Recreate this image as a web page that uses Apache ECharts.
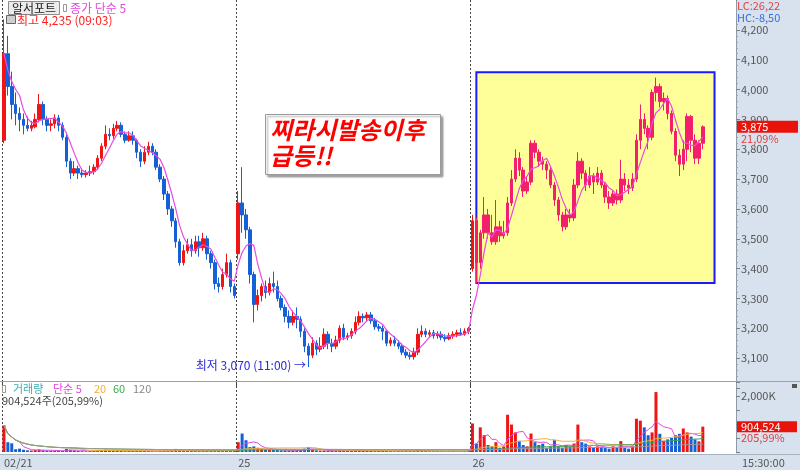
<!DOCTYPE html>
<html>
<head>
<meta charset="utf-8">
<script src="https://cdn.jsdelivr.net/npm/echarts@6/dist/echarts.min.js"></script>
<style>
  html, body { margin: 0; padding: 0; background: #fff; }
  #chart { width: 800px; height: 470px; }
</style>
</head>
<body>
<div id="chart"></div>
<script>
// day labels on the time axis
const dayLabels = ['02/21', '25', '26'];

// intraday candles, [open, close, low, high]
const day1 = [
  [3830,4120,3820,4235],[4120,4010,3980,4180],[4010,3950,3900,4060],[3950,3920,3880,3990],[3920,3900,3860,3940],
  [3900,3880,3850,3920],[3880,3870,3860,3910],[3870,3880,3860,3895],[3875,3900,3870,3920],[3900,3950,3890,3985],
  [3950,3900,3880,3960],[3900,3880,3860,3910],[3880,3885,3860,3900],[3885,3905,3870,3917],[3905,3880,3860,3915],
  [3880,3840,3830,3890],[3840,3760,3740,3850],[3760,3720,3700,3770],[3720,3735,3710,3760],[3735,3720,3700,3745],
  [3720,3715,3705,3735],[3715,3720,3705,3730],[3720,3725,3710,3745],[3725,3740,3715,3750],[3740,3770,3730,3780],
  [3770,3810,3760,3820],[3810,3850,3800,3880],[3850,3845,3830,3870],[3845,3870,3835,3885],[3870,3880,3860,3895],
  [3880,3850,3840,3890],[3850,3830,3820,3860],[3830,3845,3825,3860],[3845,3830,3815,3860],[3830,3790,3770,3835],
  [3790,3760,3740,3800],[3760,3790,3750,3810],[3790,3810,3780,3825],[3810,3790,3780,3820],[3790,3740,3730,3800],
  [3740,3700,3690,3750],[3700,3650,3630,3710],[3650,3600,3580,3660],[3600,3560,3540,3610],[3560,3490,3470,3570],
  [3490,3420,3410,3500],[3420,3460,3410,3480],[3460,3480,3450,3500],[3480,3460,3440,3500],[3460,3490,3450,3510],
  [3490,3470,3440,3510],[3470,3500,3460,3520],[3500,3450,3430,3510],[3450,3420,3400,3460],[3420,3350,3330,3430],
  [3350,3340,3320,3370],[3340,3380,3330,3400],[3380,3420,3370,3450],[3420,3340,3320,3430],[3340,3310,3300,3350]
];
const day2 = [
  [3450,3620,3430,3660],[3620,3580,3520,3740],[3580,3530,3500,3600],[3530,3380,3350,3540],[3380,3280,3220,3390],
  [3280,3310,3260,3330],[3310,3340,3290,3350],[3340,3320,3300,3360],[3320,3350,3310,3370],[3350,3340,3320,3390],
  [3340,3300,3290,3360],[3300,3270,3260,3310],[3270,3240,3220,3280],[3240,3220,3200,3260],[3220,3240,3210,3260],
  [3240,3230,3200,3270],[3230,3190,3170,3240],[3190,3140,3120,3200],[3140,3110,3070,3150],[3110,3150,3100,3170],
  [3150,3130,3110,3160],[3130,3140,3120,3170],[3140,3180,3130,3200],[3180,3150,3130,3190],[3150,3140,3120,3165],
  [3140,3160,3130,3175],[3160,3200,3150,3210],[3200,3170,3160,3215],[3170,3175,3160,3185],[3175,3190,3165,3200],
  [3190,3220,3180,3240],[3220,3240,3210,3257],[3240,3235,3220,3250],[3235,3245,3225,3255],[3245,3225,3215,3255],
  [3225,3205,3195,3235],[3205,3200,3190,3215],[3200,3190,3160,3210],[3190,3150,3140,3195],[3150,3160,3140,3170],
  [3160,3150,3140,3175],[3150,3140,3130,3160],[3140,3120,3110,3150],[3120,3110,3100,3130],[3110,3105,3095,3120],
  [3105,3120,3095,3135],[3120,3180,3110,3200],[3180,3190,3170,3210],[3190,3180,3170,3200],[3180,3185,3170,3195],
  [3185,3175,3165,3195],[3175,3180,3165,3190],[3180,3170,3160,3190],[3170,3165,3155,3180],[3165,3175,3160,3185],
  [3175,3180,3165,3190],[3180,3185,3170,3195],[3185,3180,3175,3200],[3180,3190,3175,3200],[3190,3200,3180,3205]
];
const day3 = [
  [3400,3560,3390,3580],[3560,3420,3350,3570],[3420,3520,3400,3530],[3520,3580,3500,3640],[3580,3520,3500,3600],
  [3520,3490,3480,3580],[3490,3540,3480,3630],[3540,3510,3490,3560],[3510,3520,3500,3560],[3520,3620,3510,3640],
  [3620,3700,3610,3730],[3700,3770,3690,3800],[3770,3730,3710,3790],[3730,3660,3640,3740],[3660,3690,3650,3710],
  [3690,3820,3680,3830],[3820,3790,3770,3830],[3790,3760,3740,3800],[3760,3750,3730,3775],[3750,3730,3700,3760],
  [3730,3680,3670,3740],[3680,3630,3610,3690],[3630,3580,3560,3640],[3580,3540,3525,3590],[3540,3580,3530,3600],
  [3580,3570,3555,3600],[3570,3680,3560,3700],[3680,3760,3670,3790],[3760,3720,3700,3770],[3720,3680,3660,3730],
  [3680,3710,3670,3740],[3710,3690,3650,3720],[3690,3720,3680,3740],[3720,3680,3670,3730],[3680,3640,3620,3690],
  [3640,3620,3600,3660],[3620,3650,3610,3660],[3650,3630,3615,3665],[3630,3700,3620,3765],[3700,3680,3660,3720],
  [3680,3670,3650,3700],[3670,3700,3660,3720],[3700,3830,3690,3850],[3830,3900,3800,3950],[3900,3870,3850,3920],
  [3870,3840,3800,3880],[3840,3990,3830,4000],[3990,4010,3960,4040],[4010,3960,3940,4020],[3960,3970,3930,3990],
  [3970,3920,3900,3980],[3920,3860,3850,3930],[3860,3780,3760,3870],[3780,3750,3710,3800],[3750,3800,3730,3830],
  [3800,3910,3760,3920],[3910,3830,3790,3915],[3830,3770,3750,3850],[3770,3820,3750,3830],[3820,3875,3800,3880]
];

// volume, thousand shares
const vol1 = [950,350,310,100,120,80,60,50,70,90, 60,50,40,45,50,40,110,80,60,40,
  30,25,30,35,60,70,80,50,45,40, 35,30,40,35,50,45,40,35,30,25,
  40,50,45,50,110,70,45,40,35,40, 35,40,45,40,60,50,40,45,50,60];
const vol2 = [350,660,420,175,200,150,120,100,90,80, 70,60,60,50,55,60,80,120,180,90,
  60,50,55,45,40,45,60,40,35,40, 50,60,45,40,35,30,35,40,45,35,
  30,35,40,45,35,40,60,45,35,30, 30,35,30,25,30,35,30,30,35,60];
const vol3 = [1020,300,880,600,250,200,350,150,200,1330, 980,700,400,250,200,660,350,250,300,150,
  200,420,200,150,250,200,300,980,350,300, 200,150,200,180,150,120,200,150,390,150,
  120,200,1190,1120,880,600,700,2140,650,400, 450,500,600,650,840,700,550,450,380,904.524];

const stockName = '알서포트';
const highTime = '09:03';
const lowTime = '11:00';
const lastRate = '21,09%';
const volRate = '205,99%';
const lcText = 'LC:26,22';
const hcText = 'HC:-8,50';
const lastTime = '15:30:00';
const boxRange = [3352, 4058];
const note = '찌라시발송이후\n급등!!';

const FONT = '"Noto Sans CJK KR", sans-serif';
const UP = '#f01414', DOWN = '#1560d6';
const UP_BOX = '#f2206c', DOWN_BOX = '#2058a8';
const PANEL = '#d7e2ee';

const candles = day1.concat(day2, day3);
const volumes = vol1.concat(vol2, vol3);
const perDay = day1.length;
const padCount = 8;
const cats = [];
dayLabels.forEach(d => { for (let i = 0; i < perDay; i++) cats.push(d + '_' + i); });
for (let i = 0; i < padCount; i++) cats.push('pad_' + i);

function comma(n) { return String(n).replace(/\B(?=(\d{3})+(?!\d))/g, ','); }
function movingAvg(vals, n) {
  return vals.map((v, i) => {
    const s = Math.max(0, i - n + 1);
    let sum = 0;
    for (let k = s; k <= i; k++) sum += vals[k];
    return +(sum / (i - s + 1)).toFixed(2);
  });
}
const dayStart = i => i % perDay === 0 && i < perDay * dayLabels.length;

const closes = candles.map(c => c[1]);
let hiIdx = 0, loIdx = 0;
candles.forEach((c, i) => {
  if (c[3] > candles[hiIdx][3]) hiIdx = i;
  if (c[2] < candles[loIdx][2]) loIdx = i;
});

const boxStart = perDay * 2 + 1;
const boxEnd = perDay * 3 + 2;
const candleData = candles.map((c, i) => i >= boxStart
  ? { value: c, itemStyle: { color: UP_BOX, color0: DOWN_BOX, borderColor: UP_BOX, borderColor0: DOWN_BOX } }
  : c);
const volData = volumes.map((v, i) => ({
  value: v, itemStyle: { color: candles[i][1] >= candles[i][0] ? UP : DOWN }
}));

const splitDays = { show: true, interval: dayStart, lineStyle: { color: '#444', type: [2, 2], width: 1 } };
const maLine = (data, color, x, y, w) => ({
  type: 'line', xAxisIndex: x, yAxisIndex: y, data: data, symbol: 'none', z: 4,
  lineStyle: { color: color, width: w || 1 }, silent: true
});

const chart = echarts.init(document.getElementById('chart'));
chart.setOption({
  animation: false,
  textStyle: { fontFamily: FONT },
  grid: [
    { left: 2, right: 64, top: -3, height: 391 },
    { left: 2, right: 64, top: 382, height: 70 }
  ],
  xAxis: [
    { type: 'category', gridIndex: 0, data: cats, axisLine: { show: false }, axisTick: { show: false },
      axisLabel: { show: false }, splitLine: splitDays },
    { type: 'category', gridIndex: 1, data: cats, axisLine: { show: false }, axisTick: { show: false },
      axisLabel: { interval: dayStart, formatter: (v, i) => dayLabels[Math.floor(i / perDay)],
        color: '#555', fontSize: 11, align: 'left', margin: 5 },
      splitLine: splitDays }
  ],
  yAxis: [
    { type: 'value', gridIndex: 0, position: 'right', min: 3000, max: 4300, interval: 100,
      splitLine: { show: false },
      axisLine: { show: true, lineStyle: { color: '#8f9aa6' } },
      axisTick: { show: true, length: 4, lineStyle: { color: '#7a828c' } },
      minorTick: { show: true, splitNumber: 5, length: 2, lineStyle: { color: '#9aa3ad' } },
      axisLabel: { color: '#555', fontSize: 11, margin: 5,
        formatter: v => (v <= 3000 || v >= 4300) ? '' : comma(v) } },
    { type: 'value', gridIndex: 1, position: 'right', min: 0, max: 2500, interval: 500,
      splitLine: { show: false },
      axisLine: { show: true, lineStyle: { color: '#8f9aa6' } },
      axisTick: { show: true, length: 4, lineStyle: { color: '#7a828c' } },
      axisLabel: { color: '#555', fontSize: 11, margin: 5, formatter: v => v === 2000 ? '2,000K' : '' } }
  ],
  series: [
    { type: 'candlestick', xAxisIndex: 0, yAxisIndex: 0, data: candleData, barWidth: 3, z: 3,
      itemStyle: { color: UP, color0: DOWN, borderColor: UP, borderColor0: DOWN, borderWidth: 1 },
      markArea: { silent: true,
        itemStyle: { color: '#ffff99', borderColor: '#1a1aff', borderWidth: 2 },
        data: [[{ xAxis: boxStart, yAxis: boxRange[0] }, { xAxis: boxEnd, yAxis: boxRange[1] }]] },
      markPoint: { silent: true, symbol: 'rect', symbolSize: 1, itemStyle: { color: 'rgba(0,0,0,0)' },
        data: [{ coord: [loIdx, candles[loIdx][2]],
          label: { show: true, position: 'left', distance: 2, color: '#2b2bd6', fontSize: 12,
            fontFamily: FONT, offset: [0, -2],
            formatter: '최저 ' + comma(candles[loIdx][2]) + ' (' + lowTime + ') →' } }] } },
    maLine(movingAvg(closes, 5), '#e84ce0', 0, 0, 1.2),
    { type: 'bar', xAxisIndex: 1, yAxisIndex: 1, data: volData, barWidth: 3, silent: true },
    maLine(movingAvg(volumes, 5), '#e048dc', 1, 1),
    maLine(movingAvg(volumes, 20), '#f2b033', 1, 1),
    maLine(movingAvg(volumes, 60), '#3caa4a', 1, 1),
    maLine(movingAvg(volumes, 120), '#9a9a9a', 1, 1)
  ]
});

const last = closes[closes.length - 1];
const lastVol = volumes[volumes.length - 1];
const py = chart.convertToPixel({ yAxisIndex: 0 }, last);
const vy = chart.convertToPixel({ yAxisIndex: 1 }, lastVol);

const txt = (x, y, text, fill, size, extra) => Object.assign({
  type: 'text', x: x, y: y, z: 60, silent: true,
  style: Object.assign({ text: text, fill: fill, fontSize: size, fontFamily: FONT, verticalAlign: 'middle' }, extra || {})
});
const rect = (x, y, w, h, style, z) => ({
  type: 'rect', shape: { x: x, y: y, width: w, height: h }, style: style, z: z, silent: true
});

chart.setOption({
  graphic: [
    rect(736, 0, 64, 470, { fill: PANEL }, -1),
    rect(0, 455, 800, 15, { fill: PANEL }, -1),
    { type: 'line', shape: { x1: 0, y1: 381.5, x2: 800, y2: 381.5 }, style: { stroke: '#a0a0a0' }, z: 40, silent: true },
    { type: 'line', shape: { x1: 0, y1: 454.5, x2: 800, y2: 454.5 }, style: { stroke: '#a9b3be' }, z: 40, silent: true },
    // top legend
    rect(8.5, 1.5, 51, 13, { fill: '#ececec', stroke: '#8c8c8c' }, 50),
    txt(34, 8, stockName, '#222', 12, { align: 'center' }),
    rect(63.5, 4.5, 3, 7, { fill: '#fff', stroke: '#999' }, 50),
    txt(70, 8, '종가 단순 5', '#e048dc', 12),
    rect(6.5, 15.5, 9, 8, { fill: '#cfcfcf', stroke: '#666' }, 50),
    txt(17, 20, '최고 ' + comma(candles[hiIdx][3]) + ' (' + highTime + ')', '#ff2020', 12),
    // price axis extras
    rect(737, 0, 63, 24, { fill: PANEL }, 55),
    txt(737, 6, lcText, '#e04444', 11),
    txt(737, 18, hcText, '#3a6fd8', 11),
    rect(737, py - 6, 61, 12, { fill: '#e8140c' }, 55),
    txt(741, py, comma(last), '#fff', 11),
    txt(741, py + 11.5, lastRate, '#e04040', 11),
    // volume legend
    rect(2.5, 385.5, 3, 7, { fill: '#fff', stroke: '#999' }, 50),
    txt(13, 389, '거래량', '#3aaeb0', 11),
    txt(53, 389, '단순 5', '#e048dc', 11),
    txt(94, 389, '20', '#f2b033', 11),
    txt(113, 389, '60', '#3caa4a', 11),
    txt(133, 389, '120', '#888', 11),
    txt(2, 401, comma(Math.round(lastVol * 1000)) + '주(' + volRate + ')', '#444', 11),
    rect(792, 384, 5, 4, { fill: '#555' }, 50),
    rect(737, vy - 5.5, 60, 11, { fill: '#e8140c' }, 55),
    txt(741, vy, comma(Math.round(lastVol * 1000)), '#fff', 11),
    txt(741, vy + 11.5, volRate, '#e04040', 11),
    txt(742, 463, lastTime, '#555', 11),
    // annotation box
    rect(265.5, 114.5, 175, 60, { fill: '#fff', stroke: '#9a9a9a', shadowBlur: 2, shadowOffsetX: 2,
      shadowOffsetY: 2, shadowColor: 'rgba(0,0,0,0.35)' }, 50),
    { type: 'text', x: 270, y: 117, z: 60, silent: true,
      style: { text: note, fill: '#ff0000', font: 'italic bold 24px "Noto Sans CJK KR"', lineHeight: 26 } }
  ]
});
</script>
</body>
</html>
